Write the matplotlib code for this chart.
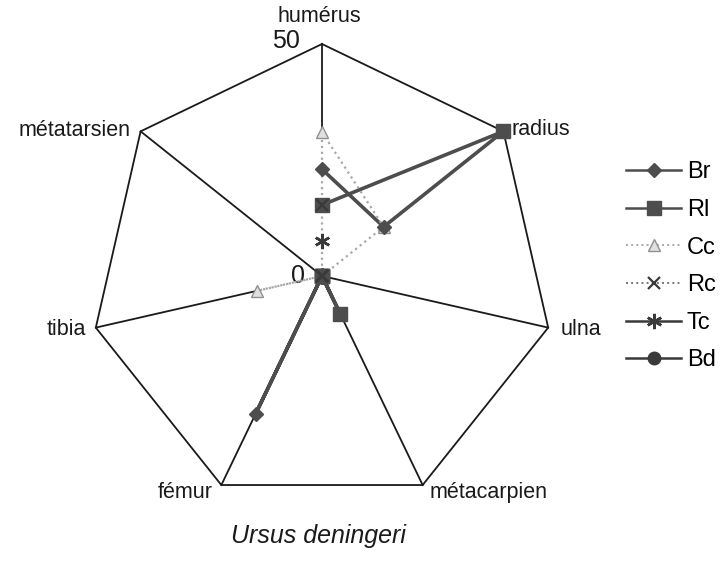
import numpy as np
import matplotlib.pyplot as plt
from matplotlib.lines import Line2D

plt.rcParams['font.family'] = ['Liberation Sans', 'DejaVu Sans']

# os mesurés, dans l'ordre des rayons (sens horaire depuis le haut)
os_labels = ["humérus", "radius", "ulna", "métacarpien", "fémur", "tibia", "métatarsien"]

Br = [23, 17, 0, 0, 33, 0, 0]
Rl = [15.3, 50, 0, 9, 0, 0, 0]
Cc = [31, 17, 0, 0, 0, 14.4, 0]
Rc = [15.3, 0, 0, 0, 0, 0, 0]
Tc = [7.5, 0, 0, 0, 0, 0, 0]
Bd = [0, 0, 0, 0, 0, 0, 0]

r_max = 50

n = len(os_labels)
theta = np.linspace(0, 2 * np.pi, n, endpoint=False)
theta_c = np.append(theta, theta[0])

def ferme(v):
    return list(v) + [v[0]]

fig = plt.figure(figsize=(7.24, 5.67), dpi=100)
W, H = 724, 567
cx, cy, R = 322, 276, 232
ax = fig.add_axes([(cx - R) / W, (H - cy - R) / H, 2 * R / W, 2 * R / H], projection='polar')
ax.set_theta_zero_location('N')
ax.set_theta_direction(-1)
ax.set_ylim(0, r_max)
ax.axis('off')

# grille : heptagone et rayons
ax.plot(theta_c, [r_max] * (n + 1), color='#1a1a1a', lw=1.3, clip_on=False, zorder=1)
for t in theta:
    ax.plot([t, t], [0, r_max], color='#1a1a1a', lw=1.3, clip_on=False, zorder=1)

fonce = '#4d4d4d'
styles = {
    "Br": dict(color=fonce, lw=2.6, ls='-', marker='D', ms=7, mfc=fonce, mec=fonce),
    "Rl": dict(color=fonce, lw=2.6, ls='-', marker='s', ms=10, mfc=fonce, mec=fonce),
    "Cc": dict(color='#a8a8a8', lw=1.6, ls=':', marker='^', ms=9, mfc='#e0e0e0', mec='#909090'),
    "Rc": dict(color='#777777', lw=1.6, ls=':', marker='x', ms=8, mew=1.6, mec='#3a3a3a'),
    "Tc": dict(color='#3a3a3a', lw=2.0, ls='-', marker=(6, 2, 0), ms=11, mew=1.8, mec='#3a3a3a'),
    "Bd": dict(color='#3a3a3a', lw=2.0, ls='-', marker='o', ms=9, mfc='#3a3a3a', mec='#3a3a3a'),
}
donnees = {"Br": Br, "Rl": Rl, "Cc": Cc, "Rc": Rc, "Tc": Tc, "Bd": Bd}
noms = ["Br", "Rl", "Cc", "Rc", "Tc", "Bd"]

# lignes des séries
for nom in noms:
    if nom == "Cc":
        continue
    st = styles[nom]
    ax.plot(theta_c, ferme(donnees[nom]), lw=st['lw'], ls=st['ls'], color=st['color'],
            clip_on=False, zorder=2)

# Cc passe par-dessus : fond blanc sur les segments couchés le long d'un rayon
cc_f = ferme(Cc)
for i in range(n):
    if cc_f[i] == 0 or cc_f[i + 1] == 0:
        ax.plot(theta_c[i:i + 2], cc_f[i:i + 2], color='white', lw=4, ls='-',
                solid_capstyle='butt', clip_on=False, zorder=3)
ax.plot(theta_c, cc_f, color=styles["Cc"]['color'], lw=styles["Cc"]['lw'], ls=':',
        clip_on=False, zorder=3.1)

# marqueurs au-dessus des lignes
for nom in ["Bd", "Tc", "Cc", "Br", "Rl", "Rc"]:
    st = styles[nom]
    mk = {k: v for k, v in st.items() if k not in ('lw', 'ls', 'color')}
    ax.plot(theta, donnees[nom], ls='none', color=st['color'], clip_on=False, zorder=4, **mk)

# étiquettes des os
decalages = {
    "humérus": (-3, 27, 'center', 'center'),
    "radius": (8, 2, 'left', 'center'),
    "ulna": (12, -2, 'left', 'center'),
    "métacarpien": (7, -7, 'left', 'center'),
    "fémur": (-9, -7, 'right', 'center'),
    "tibia": (-10, -2, 'right', 'center'),
    "métatarsien": (-10, 1, 'right', 'center'),
}
for t, lab in zip(theta, os_labels):
    dx, dy, ha, va = decalages[lab]
    ax.annotate(lab, xy=(t, r_max), xytext=(dx, dy), textcoords='offset pixels',
                ha=ha, va=va, fontsize=15.5, color='#1a1a1a', annotation_clip=False)

# graduations de l'axe
ax.annotate("50", xy=(0, r_max), xytext=(-22, 3), textcoords='offset pixels',
            ha='right', va='center', fontsize=18, color='#1a1a1a', annotation_clip=False)
ax.annotate("0", xy=(0, 0), xytext=(-17, 0), textcoords='offset pixels',
            ha='right', va='center', fontsize=18, color='#1a1a1a', annotation_clip=False)

handles = []
for nom in noms:
    st = dict(styles[nom])
    st['lw'] = 1.8 if st['ls'] == '-' else 1.4
    handles.append(Line2D([], [], label=nom, **st))

fig.legend(handles=handles, loc='upper left', bbox_to_anchor=(617 / W, 1 - 152 / H),
           frameon=False, fontsize=17, handlelength=2.3, handletextpad=0.25,
           labelspacing=0.66, borderaxespad=0)

fig.text(318 / W, 1 - 536 / H, "Ursus deningeri", ha='center', va='center',
         fontsize=18, style='italic', color='#1a1a1a')

fig.savefig("out.png", dpi=100)
